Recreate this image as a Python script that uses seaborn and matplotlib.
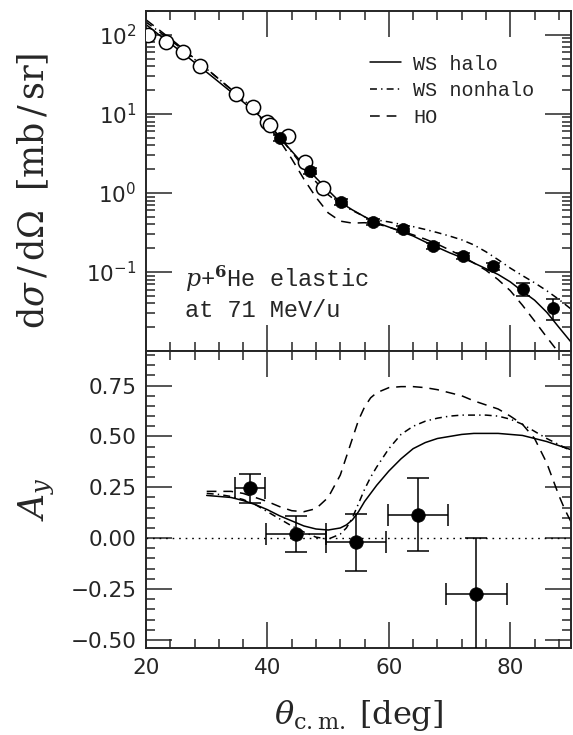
import numpy as np
import matplotlib
matplotlib.use("Agg")
import matplotlib.pyplot as plt
import matplotlib.ticker as mticker
import seaborn as sns

# ---------------- data ----------------
# top panel: cross section (mb/sr)
theta_open = [20.3, 23.3, 26.1, 28.9, 34.8, 37.6, 39.9, 40.4, 43.4, 46.2, 49.2]
xs_open = [100, 81.5, 61, 40.5, 17.9, 12.3, 7.9, 7.3, 5.3, 2.47, 1.16]

theta_filled = [42.1, 47.0, 52.1, 57.4, 62.3, 67.3, 72.2, 77.2, 82.1, 87.1]
xs_filled = [4.97, 1.90, 0.77, 0.43, 0.35, 0.213, 0.160, 0.119, 0.061, 0.035]
xs_filled_err = [0.45, 0.17, 0.07, 0.04, 0.032, 0.02, 0.015, 0.012, 0.012, 0.010]

theta_xs_curve = [20, 22, 25, 28, 31, 34, 37, 40, 42, 44, 46, 48, 50, 52, 54, 56,
                  58, 60, 62, 64, 66, 68, 70, 72, 74, 76, 78, 80, 82, 84, 86, 88, 90]
xs_ws_halo = [135, 102, 68, 44.7, 29.2, 19.0, 12.2, 7.7, 5.0, 3.38, 2.26, 1.55, 1.08,
              0.76, 0.61, 0.50, 0.42, 0.37, 0.325, 0.285, 0.24, 0.205, 0.175, 0.152,
              0.13, 0.11, 0.093, 0.075, 0.057, 0.044, 0.031, 0.020, 0.013]
xs_ws_nonhalo = [145, 112, 75, 49, 32, 20.5, 13, 8.0, 5.1, 3.3, 2.1, 1.38, 0.95,
                 0.72, 0.60, 0.50, 0.455, 0.43, 0.40, 0.375, 0.345, 0.315, 0.285,
                 0.255, 0.22, 0.18, 0.143, 0.112, 0.090, 0.073, 0.058, 0.045, 0.034]
xs_ho = [155, 118, 78, 50, 32, 20.5, 12.5, 7.2, 4.6, 2.7, 1.5, 0.88, 0.56, 0.44,
         0.415, 0.42, 0.405, 0.37, 0.33, 0.295, 0.26, 0.225, 0.19, 0.16, 0.13, 0.105,
         0.08, 0.058, 0.038, 0.024, 0.015, 0.0095, 0.006]

# bottom panel: analyzing power
theta_ay = [37.1, 44.7, 54.6, 64.8, 74.4]
ay_vals = [0.245, 0.02, -0.02, 0.115, -0.275]
ay_err = [0.07, 0.09, 0.14, 0.18, 0.275]
theta_ay_err = [2.5, 5.0, 5.0, 5.0, 5.0]

theta_ay_curve = [30, 32, 34, 36, 38, 40, 42, 44, 46, 48, 50, 52, 53, 54, 55, 56, 57,
                  58, 60, 62, 64, 66, 68, 70, 72, 74, 76, 78, 80, 82, 84, 86, 88, 89, 90]
ay_ws_halo = [0.21, 0.205, 0.20, 0.185, 0.165, 0.14, 0.11, 0.085, 0.06, 0.045, 0.04,
              0.05, 0.065, 0.09, 0.13, 0.18, 0.22, 0.26, 0.33, 0.39, 0.44, 0.47, 0.49,
              0.50, 0.51, 0.515, 0.515, 0.515, 0.51, 0.505, 0.49, 0.475, 0.455, 0.445,
              0.435]
ay_ws_nonhalo = [0.22, 0.215, 0.205, 0.19, 0.165, 0.13, 0.095, 0.06, 0.03, 0.005,
                 -0.005, 0.02, 0.05, 0.10, 0.17, 0.24, 0.30, 0.35, 0.44, 0.51, 0.55,
                 0.575, 0.59, 0.60, 0.605, 0.605, 0.605, 0.60, 0.585, 0.56, 0.525, 0.49,
                 0.46, 0.445, 0.43]
ay_ho = [0.23, 0.23, 0.23, 0.22, 0.20, 0.18, 0.155, 0.135, 0.13, 0.145, 0.20, 0.31,
         0.40, 0.49, 0.58, 0.645, 0.69, 0.715, 0.74, 0.745, 0.745, 0.74, 0.73, 0.715,
         0.70, 0.675, 0.655, 0.635, 0.60, 0.56, 0.49, 0.37, 0.21, 0.14, 0.08]

labels = ["WS halo", "WS nonhalo", "HO"]
x_major_ticks = [20, 40, 60, 80]
xs_major_ticks = [0.1, 1, 10, 100]
ay_major_ticks = [-0.50, -0.25, 0.00, 0.25, 0.50, 0.75]

# ---------------- style ----------------
sns.set_style("ticks")
plt.rcParams["font.family"] = ["DejaVu Sans"]
plt.rcParams["lines.scale_dashes"] = False
plt.rcParams["axes.linewidth"] = 1.4

LW = 1.1
styles = ["-", (0, (5, 3, 1, 3)), (0, (7, 5))]

fig = plt.figure(figsize=(5.73, 7.35), dpi=100)
ax1 = fig.add_axes([0.2548, 0.5224, 0.7417, 0.4626])
ax2 = fig.add_axes([0.2548, 0.1184, 0.7417, 0.4040])

# ---------------- top panel ----------------
ax1.set_yscale("log")
for yv, ls, lab in zip([xs_ws_halo, xs_ws_nonhalo, xs_ho], styles, labels):
    sns.lineplot(x=theta_xs_curve, y=yv, ax=ax1, color="black", linewidth=LW,
                 linestyle=ls, label=lab, zorder=2)
ax1.errorbar(theta_filled, xs_filled, yerr=xs_filled_err, fmt="none", ecolor="black",
             elinewidth=1.1, capsize=5, capthick=1.1, zorder=3)
sns.scatterplot(x=theta_open, y=xs_open, ax=ax1, s=105, facecolor="white",
                edgecolor="black", linewidth=1.1, zorder=4, legend=False)
sns.scatterplot(x=theta_filled, y=xs_filled, ax=ax1, s=75, color="black",
                edgecolor="black", linewidth=0.5, zorder=5, legend=False)

ax1.set_xlim(20, 90)
ax1.set_ylim(0.01, 200)
ax1.xaxis.set_major_locator(mticker.FixedLocator(x_major_ticks))
ax1.xaxis.set_minor_locator(mticker.MultipleLocator(4))
ax1.yaxis.set_major_locator(mticker.FixedLocator(xs_major_ticks))
ax1.yaxis.set_major_formatter(mticker.LogFormatterSciNotation())
ax1.yaxis.set_minor_locator(mticker.LogLocator(base=10, subs=np.arange(2, 10)))
ax1.yaxis.set_minor_formatter(mticker.NullFormatter())
ax1.tick_params(axis="x", labelbottom=False)
ax1.set_xlabel("")

leg = ax1.legend(loc="upper left", bbox_to_anchor=(0.527, 0.872), frameon=False,
                 handlelength=1.55, handletextpad=0.6, labelspacing=0.38,
                 borderpad=0, borderaxespad=0,
                 prop={"family": "Liberation Mono", "size": 14.5})

ax1.text(0.092, 0.172, "$p$+$^{\\mathbf{6}}$He elastic\nat 71 MeV/u",
         transform=ax1.transAxes, ha="left", va="center", fontsize=17,
         family="Liberation Mono", math_fontfamily="dejavuserif", linespacing=1.25)

ax1.set_ylabel(r"$\mathrm{d}\sigma\,/\,\mathrm{d}\Omega\;\;[\mathrm{mb\,/\,sr}]$",
               fontsize=25, math_fontfamily="dejavuserif")
ax1.yaxis.set_label_coords(-0.222, 0.47)

# ---------------- bottom panel ----------------
ax2.axhline(0, color="black", linewidth=1.0, linestyle=(0, (1.2, 3.5)), zorder=1)
for yv, ls in zip([ay_ws_halo, ay_ws_nonhalo, ay_ho], styles):
    sns.lineplot(x=theta_ay_curve, y=yv, ax=ax2, color="black", linewidth=LW,
                 linestyle=ls, zorder=2)
ax2.errorbar(theta_ay, ay_vals, xerr=theta_ay_err, yerr=ay_err, fmt="none",
             ecolor="black", elinewidth=1.1, capsize=8, capthick=1.1, zorder=3)
sns.scatterplot(x=theta_ay, y=ay_vals, ax=ax2, s=95, color="black",
                edgecolor="black", linewidth=0.5, zorder=5, legend=False)

ax2.set_xlim(20, 90)
ax2.set_ylim(-0.54, 0.92)
ax2.xaxis.set_major_locator(mticker.FixedLocator(x_major_ticks))
ax2.xaxis.set_minor_locator(mticker.MultipleLocator(4))
ax2.yaxis.set_major_locator(mticker.FixedLocator(ay_major_ticks))
ax2.yaxis.set_minor_locator(mticker.MultipleLocator(0.05))
ax2.yaxis.set_major_formatter(mticker.FuncFormatter(lambda v, p: f"{v:.2f}".replace("-", "\u2212")))

ax2.set_ylabel(r"$A_y$", fontsize=25, math_fontfamily="dejavuserif")
ax2.yaxis.set_label_coords(-0.21, 0.5)
ax2.set_xlabel(r"$\theta_{\mathrm{c.m.}}\;[\mathrm{deg}]$", fontsize=23,
               math_fontfamily="dejavuserif")
ax2.xaxis.set_label_coords(0.5, -0.17)

for ax in (ax1, ax2):
    ax.tick_params(which="both", direction="in", top=True, right=True,
                   width=1.1, labelsize=15.5, pad=7)
    ax.tick_params(which="major", length=18.5)
    ax.tick_params(which="minor", length=6.5)
    for s in ax.spines.values():
        s.set_linewidth(1.4)

fig.savefig("out.png", dpi=100)
